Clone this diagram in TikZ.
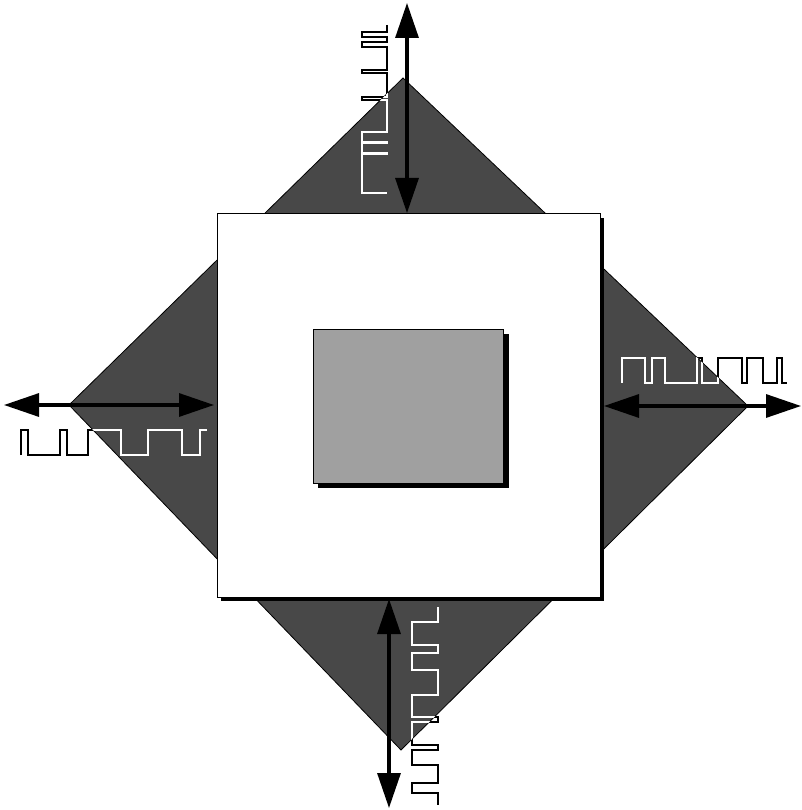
\documentclass[tikz,border=0pt]{standalone}
\usetikzlibrary{arrows.meta}
\definecolor{diamondgray}{RGB}{72,72,72}
\definecolor{coregray}{RGB}{160,160,160}
\tikzset{
  sig/.style={line width=1.4pt,line join=miter},
  bigarrow/.style={line width=3.2pt,{Triangle[length=35pt,width=23pt]}-{Triangle[length=35pt,width=23pt]}},
  box/.style={draw=black,line width=1pt},
}
\newcommand\wavetop[1]{\draw[sig,#1] (387,25)--(387,32)--(362,32)--(362,37)--(387,37)--(387,42)--(362,42)--(362,47)--(387,47)--(387,70)--(362,70)--(362,73)--(387,73)--(387,97)--(362,97)--(362,100)--(387,100)--(387,132)--(362,132)--(362,142)--(387,142)--(387,143)--(362,143)--(362,153)--(387,153)--(387,154)--(362,154)--(362,193)--(387,193);}
\newcommand\waveleft[1]{\draw[sig,#1] (21,455)--(21,430)--(28,430)--(28,455)--(60,455)--(60,430)--(67,430)--(67,455)--(88,455)--(88,430)--(121,430)--(121,455)--(148,455)--(148,430)--(182,430)--(182,455)--(200,455)--(200,430)--(207,430);}
\newcommand\waveright[1]{\draw[sig,#1] (622,383)--(622,358)--(645,358)--(645,383)--(652,383)--(652,358)--(665,358)--(665,383)--(697,383)--(697,358)--(702,358)--(702,383)--(718,383)--(718,358)--(742,358)--(742,383)--(747,383)--(747,358)--(763,358)--(763,383)--(777,383)--(777,358)--(782,358)--(782,383)--(787,383);}
\newcommand\wavebottom[1]{\draw[sig,#1] (438,607)--(438,622)--(412,622)--(412,645)--(438,645)--(438,653)--(412,653)--(412,670)--(438,670)--(438,695)--(412,695)--(412,717)--(438,717)--(438,722)--(412,722)--(412,745)--(438,745)--(438,750)--(412,750)--(412,765)--(438,765)--(438,783)--(412,783)--(412,793)--(438,793)--(438,805);}
\begin{document}
\begin{tikzpicture}[x=1pt,y=-1pt]
\useasboundingbox (0,0) rectangle (801,810);
% diamond
\coordinate (dT) at (403,78);
\coordinate (dR) at (748,406);
\coordinate (dB) at (401,750);
\coordinate (dL) at (69,405);
\fill[diamondgray,draw=black,line width=0.8pt] (dT)--(dR)--(dB)--(dL)--cycle;
% outer square with shadow
\fill[black] (221,218) rectangle (604,601);
\filldraw[box,fill=white] (217,214) rectangle (600,597);
% inner core with shadow
\fill[black] (318,334) rectangle (509,488);
\filldraw[box,fill=coregray] (313,329) rectangle (503,483);
% waveforms: black outside, white over the diamond
\wavetop{black}\waveleft{black}\waveright{black}\wavebottom{black}
\begin{scope}
  \clip (dT)--(dR)--(dB)--(dL)--cycle;
  \wavetop{white}\waveleft{white}\waveright{white}\wavebottom{white}
\end{scope}
% arrows
\coordinate (tA) at (407,3);
\coordinate (tB) at (407,213);
\coordinate (lA) at (4,405);
\coordinate (lB) at (214,405);
\coordinate (rA) at (604,406);
\coordinate (rB) at (801,406);
\coordinate (bA) at (389,599);
\coordinate (bB) at (389,808);
\draw[bigarrow] (tA) -- (tB);
\draw[bigarrow] (lA) -- (lB);
\draw[bigarrow] (rA) -- (rB);
\draw[bigarrow] (bA) -- (bB);
\end{tikzpicture}
\end{document}
